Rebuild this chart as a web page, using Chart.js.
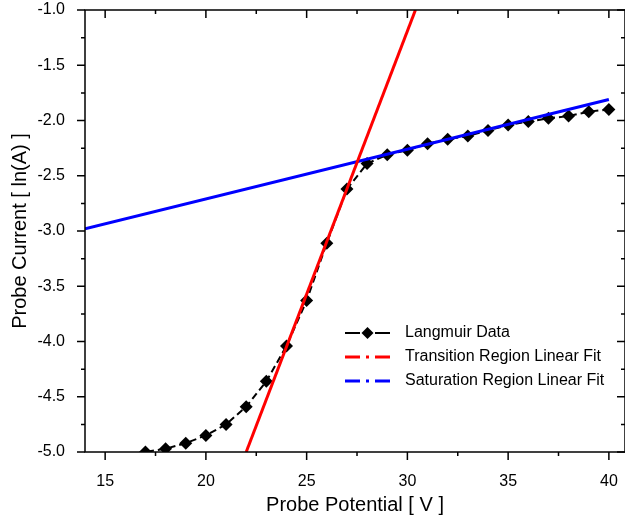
<!DOCTYPE html>
<html>
<head>
<meta charset="utf-8">
<script src="https://cdn.jsdelivr.net/npm/chart.js@4/dist/chart.umd.min.js"></script>
<style>
    html, body { margin: 0; padding: 0; background: #fff; }
    #wrap { width: 625px; height: 521px; }
</style>
</head>
<body>
<div id="wrap"><canvas id="langmuirChart" width="625" height="521"></canvas></div>
<script>
// Langmuir probe data
const potential = [15, 16, 17, 18, 19, 20, 21, 22, 23, 24, 25, 26, 27, 28, 29, 30, 31, 32, 33, 34, 35, 36, 37, 38, 39, 40];
const lnCurrent = [-5.12, -5.06, -5.00, -4.97, -4.92, -4.85, -4.75, -4.59, -4.36, -4.04, -3.63, -3.11, -2.62, -2.39, -2.31, -2.27, -2.21, -2.17, -2.14, -2.09, -2.04, -2.01, -1.98, -1.96, -1.92, -1.90];

// Linear fit end points
const transitionX = [22.0, 30.4];
const transitionY = [-5.0, -1.0];
const saturationX = [14.0, 40.0];
const saturationY = [-2.98, -1.81];

// Axis ticks
const xTicks = [15, 20, 25, 30, 35, 40];
const xMinorTicks = [17.5, 22.5, 27.5, 32.5, 37.5];
const yTicks = [-5.0, -4.5, -4.0, -3.5, -3.0, -2.5, -2.0, -1.5, -1.0];
const yMinorTicks = [-4.75, -4.25, -3.75, -3.25, -2.75, -2.25, -1.75, -1.25];

const seriesNames = ['Langmuir Data', 'Transition Region Linear Fit', 'Saturation Region Linear Fit'];

const FONT = '"Liberation Sans", Arial, sans-serif';

const toPoints = (xs, ys) => xs.map((x, i) => ({ x: x, y: ys[i] }));

// Box frame + Origin style ticks
const frameTicks = {
    id: 'frameTicks',
    afterDraw(chart) {
        const { ctx, chartArea: a, scales: { x, y } } = chart;
        ctx.save();
        ctx.strokeStyle = '#000';
        ctx.lineWidth = 1.5;
        ctx.strokeRect(a.left, a.top, a.right - a.left, a.bottom - a.top);

        const tick = (vals, len) => {
            vals.forEach(v => {
                const px = x.getPixelForValue(v);
                ctx.beginPath();
                ctx.moveTo(px, a.bottom); ctx.lineTo(px, a.bottom + len);   // bottom, outward
                ctx.moveTo(px, a.top); ctx.lineTo(px, a.top + len);         // top, inward
                ctx.stroke();
            });
        };
        const ytick = (vals, len) => {
            vals.forEach(v => {
                const py = y.getPixelForValue(v);
                ctx.beginPath();
                ctx.moveTo(a.left, py); ctx.lineTo(a.left - len, py);       // left, outward
                ctx.moveTo(a.right, py); ctx.lineTo(a.right - len, py);     // right, inward
                ctx.stroke();
            });
        };
        tick(xTicks, 8);
        tick(xMinorTicks, 4);
        ytick(yTicks, 8);
        ytick(yMinorTicks, 4);
        ctx.restore();
    }
};

// Legend drawn inside the plot
const insideLegend = {
    id: 'insideLegend',
    afterDraw(chart) {
        const ctx = chart.ctx;
        const x0 = 345, x1 = 390, tx = 405;
        const rows = [333, 357, 381];
        ctx.save();
        chart.data.datasets.forEach(ds => {
            const yy = rows[ds.legendRow];
            ctx.beginPath();
            ctx.strokeStyle = ds.borderColor;
            ctx.lineWidth = ds.legendRow === 0 ? 2 : 3;
            if (ds.legendRow === 0) {
                ctx.setLineDash([]);
                ctx.moveTo(x0, yy); ctx.lineTo(x0 + 15, yy);
                ctx.moveTo(x1 - 15, yy); ctx.lineTo(x1, yy);
                ctx.stroke();
                ctx.fillStyle = '#000';
                ctx.beginPath();
                const cx = (x0 + x1) / 2;
                ctx.moveTo(cx, yy - 6); ctx.lineTo(cx + 6, yy); ctx.lineTo(cx, yy + 6); ctx.lineTo(cx - 6, yy);
                ctx.closePath();
                ctx.fill();
            } else {
                ctx.setLineDash([15, 6, 3, 6]);
                ctx.moveTo(x0, yy); ctx.lineTo(x1, yy);
                ctx.stroke();
            }
            ctx.setLineDash([]);
            ctx.fillStyle = '#000';
            ctx.font = '16px ' + FONT;
            ctx.textBaseline = 'middle';
            ctx.textAlign = 'left';
            ctx.fillText(ds.label, tx, yy);
        });
        ctx.restore();
    }
};

new Chart(document.getElementById('langmuirChart'), {
    type: 'scatter',
    data: {
        datasets: [
            {
                label: seriesNames[1],
                legendRow: 1,
                data: toPoints(transitionX, transitionY),
                showLine: true,
                borderColor: '#ff0000',
                borderWidth: 3,
                pointRadius: 0,
                clip: 0,
                order: 0
            },
            {
                label: seriesNames[2],
                legendRow: 2,
                data: toPoints(saturationX, saturationY),
                showLine: true,
                borderColor: '#0000ff',
                borderWidth: 3,
                pointRadius: 0,
                clip: 0,
                order: 0
            },
            {
                label: seriesNames[0],
                legendRow: 0,
                data: toPoints(potential, lnCurrent),
                showLine: true,
                borderColor: '#000',
                borderWidth: 2,
                borderDash: [7, 4],
                pointStyle: 'rectRot',
                pointRadius: 6.5,
                pointBackgroundColor: '#000',
                pointBorderColor: '#000',
                pointBorderWidth: 0,
                clip: 0,
                order: 1
            }
        ]
    },
    options: {
        responsive: false,
        animation: false,
        layout: { autoPadding: false, padding: { left: 0, top: 10, right: 0, bottom: 0 } },
        plugins: {
            legend: { display: false },
            tooltip: { enabled: false }
        },
        scales: {
            x: {
                type: 'linear',
                min: 14,
                max: 40.8,
                afterBuildTicks: s => { s.ticks = xTicks.map(v => ({ value: v })); },
                afterFit: s => { s.height = 69; s.paddingLeft = 0; s.paddingRight = 0; },
                grid: { display: false },
                border: { display: false },
                ticks: {
                    color: '#000',
                    padding: 12,
                    maxRotation: 0,
                    font: { family: FONT, size: 16 }
                },
                title: {
                    display: true,
                    text: 'Probe Potential [ V ]',
                    color: '#000',
                    padding: { top: 0, bottom: 4 },
                    font: { family: FONT, size: 20 }
                }
            },
            y: {
                type: 'linear',
                min: -5.0,
                max: -1.0,
                afterBuildTicks: s => { s.ticks = yTicks.map(v => ({ value: v })); },
                afterFit: s => { s.width = 85; s.paddingTop = 0; s.paddingBottom = 0; },
                grid: { display: false },
                border: { display: false },
                ticks: {
                    color: '#000',
                    padding: 12,
                    font: { family: FONT, size: 16 },
                    callback: v => v.toFixed(1)
                },
                title: {
                    display: true,
                    text: 'Probe Current [ ln(A) ]',
                    color: '#000',
                    padding: { top: 8, bottom: 0 },
                    font: { family: FONT, size: 20 }
                }
            }
        }
    },
    plugins: [frameTicks, insideLegend]
});
</script>
</body>
</html>
